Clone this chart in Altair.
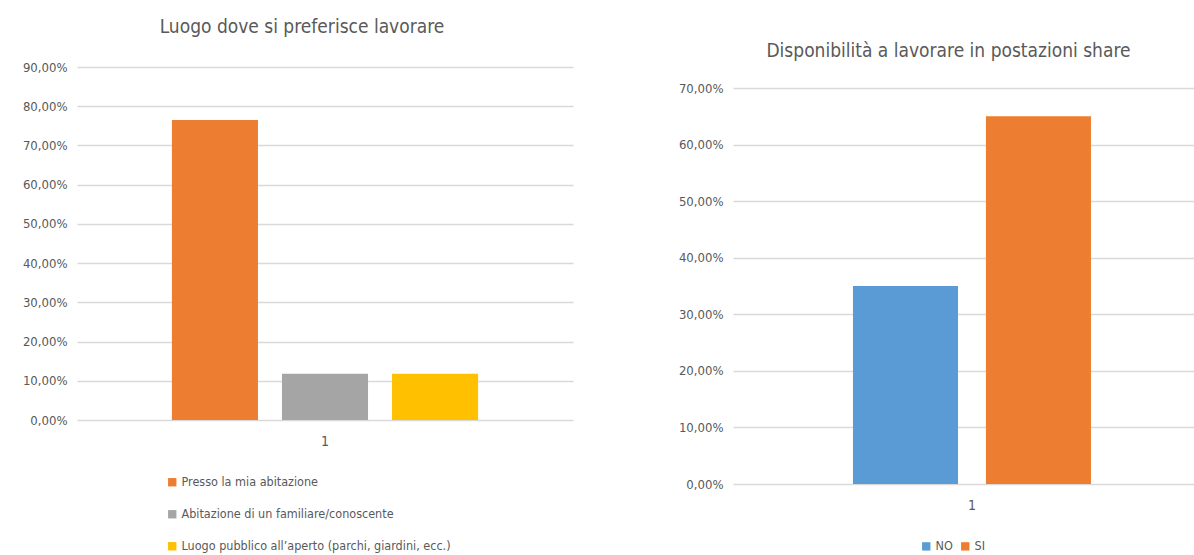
import altair as alt
import pandas as pd

FONT = "Liberation Sans Narrow, DejaVu Sans Condensed, Roboto, sans-serif"
TXT = "#595959"
GRID = "#D9D9D9"

# Left chart data
left_title = "Luogo dove si preferisce lavorare"
left_series = [
    "Presso la mia abitazione",
    "Abitazione di un familiare/conoscente",
    "Luogo pubblico all’aperto (parchi, giardini, ecc.)",
]
left_values = [0.7647, 0.1176, 0.1176]
left_colors = ["#ED7D31", "#A5A5A5", "#FFC000"]
left_ticks = [0, 0.1, 0.2, 0.3, 0.4, 0.5, 0.6, 0.7, 0.8, 0.9]

# Right chart data
right_title = "Disponibilità a lavorare in postazioni share"
right_series = ["NO", "SI"]
right_values = [0.35, 0.65]
right_colors = ["#5B9BD5", "#ED7D31"]
right_ticks = [0, 0.1, 0.2, 0.3, 0.4, 0.5, 0.6, 0.7]

category = "1"

label_expr = "replace(format(datum.value, '.2%'), '.', ',')"

df_left = pd.DataFrame({"cat": [category] * 3, "series": left_series, "value": left_values})
df_right = pd.DataFrame({"cat": [category] * 2, "series": right_series, "value": right_values})

left = alt.Chart(df_left).mark_bar().encode(
    x=alt.X("cat:N", scale=alt.Scale(paddingOuter=0.31, paddingInner=0),
            axis=alt.Axis(title=None, labelAngle=0, domain=False, ticks=False,
                          labelPadding=14, labelFontSize=14)),
    xOffset=alt.XOffset("series:N", sort=left_series,
                        scale=alt.Scale(paddingInner=0.218, paddingOuter=0)),
    y=alt.Y("value:Q", scale=alt.Scale(domain=[0, 0.9]),
            axis=alt.Axis(title=None, values=left_ticks, labelExpr=label_expr,
                          domain=False, ticks=False, labelPadding=10)),
    color=alt.Color("series:N", sort=left_series,
                    scale=alt.Scale(domain=left_series, range=left_colors),
                    legend=alt.Legend(orient="none", legendX=89, legendY=409,
                                      direction="vertical", title=None,
                                      symbolType="square", symbolSize=70,
                                      rowPadding=19, labelFontSize=12.5,
                                      labelOffset=3, labelLimit=400)),
).properties(
    width=496, height=353,
    title=alt.TitleParams(left_title, fontSize=19, offset=24, anchor="middle", dx=-23),
)

right = alt.Chart(df_right).mark_bar().encode(
    x=alt.X("cat:N", scale=alt.Scale(paddingOuter=0.4685, paddingInner=0, align=0.538),
            axis=alt.Axis(title=None, labelAngle=0, domain=False, ticks=False,
                          labelPadding=14, labelFontSize=14)),
    xOffset=alt.XOffset("series:N", sort=right_series,
                        scale=alt.Scale(paddingInner=0.21, paddingOuter=0)),
    y=alt.Y("value:Q", scale=alt.Scale(domain=[0, 0.7], range=[417, 21]),
            axis=alt.Axis(title=None, values=right_ticks, labelExpr=label_expr,
                          domain=False, ticks=False, labelPadding=10)),
    color=alt.Color("series:N", sort=right_series,
                    scale=alt.Scale(domain=right_series, range=right_colors),
                    legend=alt.Legend(orient="none", legendX=187, legendY=473,
                                      direction="horizontal", title=None,
                                      symbolType="square", symbolSize=70,
                                      columnPadding=6, labelFontSize=12.5,
                                      labelOffset=3)),
).properties(
    width=461, height=417,
    title=alt.TitleParams(right_title, fontSize=19, offset=6, anchor="middle", dx=-15),
)

chart = alt.hconcat(left, right, spacing=105).resolve_scale(
    color="independent", y="independent", x="independent", xOffset="independent"
).configure(
    font=FONT,
    padding={"left": 22, "top": 18, "right": 0, "bottom": 0},
).configure_view(
    stroke=None,
).configure_axis(
    labelFont=FONT, labelColor=TXT, labelFontSize=13, gridColor=GRID, gridWidth=1.3,
).configure_legend(
    labelFont=FONT, labelColor=TXT,
).configure_title(
    font=FONT, color=TXT, fontWeight="normal",
)

chart.save("out.html", embed_options={"renderer": "svg", "actions": False})
